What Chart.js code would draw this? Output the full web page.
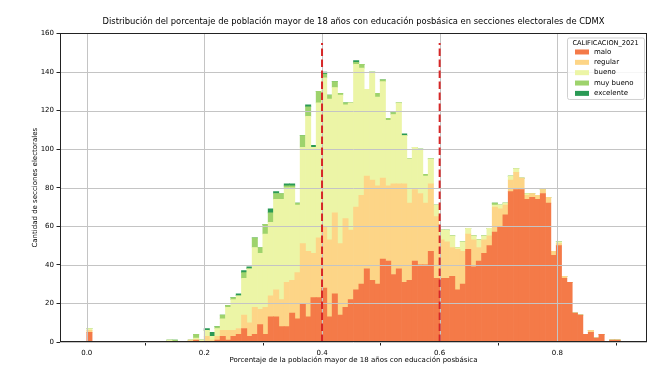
<!DOCTYPE html>
<html>
<head>
<meta charset="utf-8">
<script src="https://cdn.jsdelivr.net/npm/chart.js@4/dist/chart.umd.min.js"></script>
<style>html,body{margin:0;padding:0;background:#fff;}canvas{display:block;}</style>
</head>
<body>
<canvas id="c" width="672" height="373"></canvas>
<script>
// ---------- DATA ----------
const titleText = 'Distribución del porcentaje de población mayor de 18 años con educación posbásica en secciones electorales de CDMX';
const xTitle = 'Porcentaje de la población mayor de 18 años con educación posbásica';
const yTitle = 'Cantidad de secciones electorales';
const legendTitle = 'CALIFICACION_2021';
const categories = ['malo', 'regular', 'bueno', 'muy bueno', 'excelente'];
const binWidth = 0.00907;           // histogram bin width (100 bins from 0)
const xTickValues = [0.0, 0.2, 0.4, 0.6, 0.8];
const yTickValues = [0, 20, 40, 60, 80, 100, 120, 140, 160];
const refLines = [0.4, 0.6];
const refLineTop = 155;

const malo = [5,0,0,0,0,0,0,0,0,0, 0,0,0,0,0,0,0,0,0,0, 1,0,0,0,1,3,1,3,4,7, 3,4,9,4,13,13,8,8,15,12,
  20,13,23,23,28,13,25,14,18,22, 27,30,38,32,30,43,42,35,38,31, 32,42,40,40,47,33,33,33,34,27,
  30,48,39,42,46,50,57,60,66,78, 79,79,74,75,74,77,72,45,50,33, 31,15,14,4,5,2,4,0,1,1];
const regular = [1,0,0,0,0,0,0,0,0,0, 0,0,0,0,0,0,0,0,0,1, 0,0,3,1,2,3,5,3,3,7, 7,14,8,14,11,14,14,23,17,24,
  31,34,23,31,32,40,42,37,46,36, 43,46,48,52,51,42,39,47,44,51, 40,37,37,32,35,32,20,19,15,21,
  17,8,14,7,7,5,13,9,5,6, 9,6,2,2,2,2,3,2,1,1, 0,0,0,0,1,0,0,0,0,0];
const bueno = [1,0,0,0,0,0,0,0,0,0, 0,0,0,0,0,1,0,0,0,0, 1,1,3,2,4,6,12,16,17,19, 28,31,29,38,38,47,52,49,48,35,
  50,70,55,70,77,73,65,77,59,66, 74,66,45,56,46,50,34,36,42,25, 23,22,23,14,13,6,5,6,6,1,
  5,3,2,4,2,4,1,2,1,2, 2,0,1,0,0,0,0,0,1,0, 0,0,0,0,0,0,0,0,0,0];
const muyBueno = [0,0,0,0,0,0,0,0,0,0, 0,0,0,0,0,0,1,0,0,0, 2,0,0,0,1,2,1,1,0,3, 0,5,3,5,5,3,3,1,1,1,
  6,5,0,6,2,2,3,1,1,0, 1,2,0,0,2,1,1,1,0,0, 0,0,0,1,0,0,0,0,0,0,
  0,0,0,0,0,0,1,0,0,0, 0,0,0,0,0,0,0,0,0,0, 0,0,0,0,0,0,0,0,0,0];
const excelente = [0,0,0,0,0,0,0,0,0,0, 0,0,0,0,0,0,0,0,0,0, 0,0,1,2,0,0,0,0,1,1, 1,0,0,0,2,1,0,1,1,0,
  0,1,1,0,1,0,0,0,0,0, 1,0,0,0,0,0,0,0,0,1, 0,0,0,0,0,0,0,0,0,0,
  0,0,0,0,0,0,0,0,0,0, 0,0,0,0,0,0,0,0,0,0, 0,0,0,0,0,0,0,0,0,0];

const seriesValues = [malo, regular, bueno, muyBueno, excelente];
const seriesColors = ['#f47a48', '#fdd587', '#ecf5a6', '#9ed36c', '#2a9a55'];

// ---------- CHART ----------
const FONT = 'DejaVu Sans';
const datasets = categories.map((name, k) => ({
  label: name,
  data: seriesValues[k].map((v, i) => ({ x: (i + 0.5) * binWidth, y: v })),
  backgroundColor: seriesColors[k],
  borderWidth: 0,
  barPercentage: 1.0,
  categoryPercentage: 1.0
}));

const overlay = {
  id: 'overlay',
  afterDatasetsDraw(chart) {
    const { ctx, chartArea: a, scales: { x, y } } = chart;
    ctx.save();
    // grid (drawn above bars like matplotlib)
    ctx.strokeStyle = '#c4c4c4';
    ctx.lineWidth = 1;
    xTickValues.forEach(v => {
      const px = Math.round(x.getPixelForValue(v)) + 0.5;
      ctx.beginPath(); ctx.moveTo(px, a.top); ctx.lineTo(px, a.bottom); ctx.stroke();
    });
    yTickValues.forEach(v => {
      const py = Math.round(y.getPixelForValue(v)) + 0.5;
      ctx.beginPath(); ctx.moveTo(a.left, py); ctx.lineTo(a.right, py); ctx.stroke();
    });
    // reference lines
    ctx.strokeStyle = '#d62728';
    ctx.lineWidth = 2;
    ctx.setLineDash([7.5, 3.5]);
    refLines.forEach(v => {
      const px = x.getPixelForValue(v);
      ctx.beginPath(); ctx.moveTo(px, a.bottom); ctx.lineTo(px, y.getPixelForValue(refLineTop)); ctx.stroke();
    });
    ctx.setLineDash([]);
    // spines
    ctx.strokeStyle = '#222';
    ctx.lineWidth = 1;
    ctx.strokeRect(Math.round(a.left) + 0.5, Math.round(a.top) + 0.5,
                   Math.round(a.right) - Math.round(a.left) - 1, Math.round(a.bottom) - Math.round(a.top) - 1);
    // legend
    const bw = 77, bh = 61.5;
    const bx = a.right - bw - 3, by = a.top + 4;
    ctx.fillStyle = 'rgba(255,255,255,0.85)';
    ctx.strokeStyle = '#d0d0d0';
    ctx.beginPath();
    ctx.roundRect(bx + 0.5, by + 0.5, bw, bh, 2);
    ctx.fill(); ctx.stroke();
    ctx.fillStyle = '#000';
    ctx.textBaseline = 'middle';
    ctx.textAlign = 'center';
    ctx.font = '6.6px "' + FONT + '"';
    ctx.fillText(legendTitle, bx + bw / 2, by + 5.5);
    ctx.textAlign = 'left';
    ctx.font = '7px "' + FONT + '"';
    chart.data.datasets.forEach((ds, i) => {
      const cy = by + 14.5 + i * 10.35;
      ctx.fillStyle = ds.backgroundColor;
      ctx.fillRect(bx + 8, cy - 2.5, 14, 5);
      ctx.fillStyle = '#000';
      ctx.fillText(ds.label, bx + 27, cy);
    });
    ctx.restore();
  }
};

new Chart(document.getElementById('c'), {
  type: 'bar',
  data: { datasets },
  options: {
    responsive: false,
    animation: false,
    devicePixelRatio: 1,
    layout: { padding: { left: 0, right: 25, top: 0, bottom: 0 } },
    plugins: {
      legend: { display: false },
      tooltip: { enabled: false },
      title: {
        display: true, text: titleText, fullSize: false, color: '#000',
        font: { family: FONT, size: 8.4, weight: 'normal' },
        padding: { top: 17, bottom: 6.4 }
      }
    },
    scales: {
      x: {
        type: 'linear', stacked: true, min: -0.0455, max: 0.9525, offset: false,
        afterBuildTicks: s => { s.ticks = xTickValues.map(v => ({ value: v })); },
        afterFit: s => { s.height = 31; },
        ticks: { callback: v => Number(v).toFixed(1), color: '#000', padding: 3, maxRotation: 0, autoSkip: false,
                 font: { family: FONT, size: 7 } },
        grid: { drawOnChartArea: false, tickLength: 3.5, tickColor: '#222' },
        border: { display: false },
        title: { display: true, text: xTitle, color: '#000', font: { family: FONT, size: 7 },
                 padding: { top: 0, bottom: 8.8 } }
      },
      y: {
        stacked: true, min: 0, max: 160,
        afterBuildTicks: s => { s.ticks = yTickValues.map(v => ({ value: v })); },
        afterFit: s => { s.width = 60; },
        ticks: { color: '#000', padding: 2.5, font: { family: FONT, size: 7 } },
        grid: { drawOnChartArea: false, tickLength: 3.5, tickColor: '#222' },
        border: { display: false },
        title: { display: true, text: yTitle, color: '#000', font: { family: FONT, size: 7 },
                 padding: { top: 31, bottom: 0 } }
      }
    }
  },
  plugins: [overlay]
});
</script>
</body>
</html>
